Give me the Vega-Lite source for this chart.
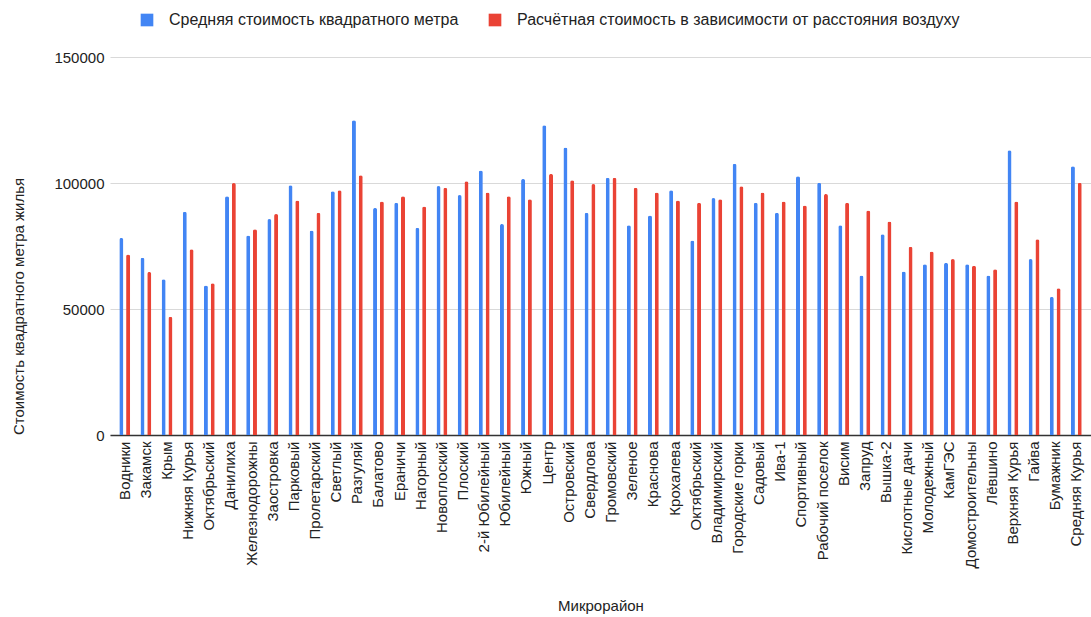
{
  "$schema": "https://vega.github.io/schema/vega-lite/v6.json",
  "autosize": {"type": "none"},
  "padding": {"left": 110, "top": 57, "right": 0, "bottom": 182},
  "width": 981,
  "height": 378,
  "background": "white",
  "config": {
    "font": "Liberation Sans",
    "view": {"stroke": null},
    "axis": {"labelFont": "Liberation Sans", "titleFont": "Liberation Sans", "labelColor": "#222222", "titleColor": "#222222", "labelFontSize": 15, "titleFontSize": 15, "titleFontWeight": "normal"},
    "legend": {"labelFont": "Liberation Sans", "labelFontSize": 16, "labelColor": "#222222"}
  },
  "data": {"values": [
    {"district": "Водники", "series": "Средняя стоимость квадратного метра", "value": 78200},
    {"district": "Водники", "series": "Расчётная стоимость в зависимости от расстояния воздуху", "value": 71600},
    {"district": "Закамск", "series": "Средняя стоимость квадратного метра", "value": 70300},
    {"district": "Закамск", "series": "Расчётная стоимость в зависимости от расстояния воздуху", "value": 64700},
    {"district": "Крым", "series": "Средняя стоимость квадратного метра", "value": 61800},
    {"district": "Крым", "series": "Расчётная стоимость в зависимости от расстояния воздуху", "value": 46900},
    {"district": "Нижняя Курья", "series": "Средняя стоимость квадратного метра", "value": 88600},
    {"district": "Нижняя Курья", "series": "Расчётная стоимость в зависимости от расстояния воздуху", "value": 73700},
    {"district": "Октябрьский", "series": "Средняя стоимость квадратного метра", "value": 59300},
    {"district": "Октябрьский", "series": "Расчётная стоимость в зависимости от расстояния воздуху", "value": 60200},
    {"district": "Данилиха", "series": "Средняя стоимость квадратного метра", "value": 94700},
    {"district": "Данилиха", "series": "Расчётная стоимость в зависимости от расстояния воздуху", "value": 100000},
    {"district": "Железнодорожны", "series": "Средняя стоимость квадратного метра", "value": 79200},
    {"district": "Железнодорожны", "series": "Расчётная стоимость в зависимости от расстояния воздуху", "value": 81600},
    {"district": "Заостровка", "series": "Средняя стоимость квадратного метра", "value": 85700},
    {"district": "Заостровка", "series": "Расчётная стоимость в зависимости от расстояния воздуху", "value": 87700},
    {"district": "Парковый", "series": "Средняя стоимость квадратного метра", "value": 99100},
    {"district": "Парковый", "series": "Расчётная стоимость в зависимости от расстояния воздуху", "value": 93100},
    {"district": "Пролетарский", "series": "Средняя стоимость квадратного метра", "value": 81200},
    {"district": "Пролетарский", "series": "Расчётная стоимость в зависимости от расстояния воздуху", "value": 88200},
    {"district": "Светлый", "series": "Средняя стоимость квадратного метра", "value": 96700},
    {"district": "Светлый", "series": "Расчётная стоимость в зависимости от расстояния воздуху", "value": 97100},
    {"district": "Разгуляй", "series": "Средняя стоимость квадратного метра", "value": 124900},
    {"district": "Разгуляй", "series": "Расчётная стоимость в зависимости от расстояния воздуху", "value": 103100},
    {"district": "Балатово", "series": "Средняя стоимость квадратного метра", "value": 90100},
    {"district": "Балатово", "series": "Расчётная стоимость в зависимости от расстояния воздуху", "value": 92700},
    {"district": "Ераничи", "series": "Средняя стоимость квадратного метра", "value": 92200},
    {"district": "Ераничи", "series": "Расчётная стоимость в зависимости от расстояния воздуху", "value": 94700},
    {"district": "Нагорный", "series": "Средняя стоимость квадратного метра", "value": 82200},
    {"district": "Нагорный", "series": "Расчётная стоимость в зависимости от расстояния воздуху", "value": 90700},
    {"district": "Новоплоский", "series": "Средняя стоимость квадратного метра", "value": 98800},
    {"district": "Новоплоский", "series": "Расчётная стоимость в зависимости от расстояния воздуху", "value": 98100},
    {"district": "Плоский", "series": "Средняя стоимость квадратного метра", "value": 95200},
    {"district": "Плоский", "series": "Расчётная стоимость в зависимости от расстояния воздуху", "value": 100700},
    {"district": "2-й Юбилейный", "series": "Средняя стоимость квадратного метра", "value": 105000},
    {"district": "2-й Юбилейный", "series": "Расчётная стоимость в зависимости от расстояния воздуху", "value": 96200},
    {"district": "Юбилейный", "series": "Средняя стоимость квадратного метра", "value": 83700},
    {"district": "Юбилейный", "series": "Расчётная стоимость в зависимости от расстояния воздуху", "value": 94700},
    {"district": "Южный", "series": "Средняя стоимость квадратного метра", "value": 101600},
    {"district": "Южный", "series": "Расчётная стоимость в зависимости от расстояния воздуху", "value": 93600},
    {"district": "Центр", "series": "Средняя стоимость квадратного метра", "value": 122900},
    {"district": "Центр", "series": "Расчётная стоимость в зависимости от расстояния воздуху", "value": 103600},
    {"district": "Островский", "series": "Средняя стоимость квадратного метра", "value": 114100},
    {"district": "Островский", "series": "Расчётная стоимость в зависимости от расстояния воздуху", "value": 101100},
    {"district": "Свердлова", "series": "Средняя стоимость квадратного метра", "value": 88200},
    {"district": "Свердлова", "series": "Расчётная стоимость в зависимости от расстояния воздуху", "value": 99600},
    {"district": "Громовский", "series": "Средняя стоимость квадратного метра", "value": 102100},
    {"district": "Громовский", "series": "Расчётная стоимость в зависимости от расстояния воздуху", "value": 102100},
    {"district": "Зеленое", "series": "Средняя стоимость квадратного метра", "value": 83200},
    {"district": "Зеленое", "series": "Расчётная стоимость в зависимости от расстояния воздуху", "value": 98100},
    {"district": "Краснова", "series": "Средняя стоимость квадратного метра", "value": 87100},
    {"district": "Краснова", "series": "Расчётная стоимость в зависимости от расстояния воздуху", "value": 96200},
    {"district": "Крохалева", "series": "Средняя стоимость квадратного метра", "value": 97100},
    {"district": "Крохалева", "series": "Расчётная стоимость в зависимости от расстояния воздуху", "value": 93100},
    {"district": "Октябрьский ", "series": "Средняя стоимость квадратного метра", "value": 77200},
    {"district": "Октябрьский ", "series": "Расчётная стоимость в зависимости от расстояния воздуху", "value": 92200},
    {"district": "Владимирский", "series": "Средняя стоимость квадратного метра", "value": 94000},
    {"district": "Владимирский", "series": "Расчётная стоимость в зависимости от расстояния воздуху", "value": 93600},
    {"district": "Городские горки", "series": "Средняя стоимость квадратного метра", "value": 107600},
    {"district": "Городские горки", "series": "Расчётная стоимость в зависимости от расстояния воздуху", "value": 98700},
    {"district": "Садовый", "series": "Средняя стоимость квадратного метра", "value": 92200},
    {"district": "Садовый", "series": "Расчётная стоимость в зависимости от расстояния воздуху", "value": 96200},
    {"district": "Ива-1", "series": "Средняя стоимость квадратного метра", "value": 88200},
    {"district": "Ива-1", "series": "Расчётная стоимость в зависимости от расстояния воздуху", "value": 92700},
    {"district": "Спортивный", "series": "Средняя стоимость квадратного метра", "value": 102700},
    {"district": "Спортивный", "series": "Расчётная стоимость в зависимости от расстояния воздуху", "value": 91100},
    {"district": "Рабочий поселок", "series": "Средняя стоимость квадратного метра", "value": 100100},
    {"district": "Рабочий поселок", "series": "Расчётная стоимость в зависимости от расстояния воздуху", "value": 95600},
    {"district": "Висим", "series": "Средняя стоимость квадратного метра", "value": 83200},
    {"district": "Висим", "series": "Расчётная стоимость в зависимости от расстояния воздуху", "value": 92200},
    {"district": "Запруд", "series": "Средняя стоимость квадратного метра", "value": 63300},
    {"district": "Запруд", "series": "Расчётная стоимость в зависимости от расстояния воздуху", "value": 89100},
    {"district": "Вышка-2", "series": "Средняя стоимость квадратного метра", "value": 79700},
    {"district": "Вышка-2", "series": "Расчётная стоимость в зависимости от расстояния воздуху", "value": 84700},
    {"district": "Кислотные дачи", "series": "Средняя стоимость квадратного метра", "value": 64900},
    {"district": "Кислотные дачи", "series": "Расчётная стоимость в зависимости от расстояния воздуху", "value": 74700},
    {"district": "Молодежный", "series": "Средняя стоимость квадратного метра", "value": 67800},
    {"district": "Молодежный", "series": "Расчётная стоимость в зависимости от расстояния воздуху", "value": 72800},
    {"district": "КамГЭС", "series": "Средняя стоимость квадратного метра", "value": 68300},
    {"district": "КамГЭС", "series": "Расчётная стоимость в зависимости от расстояния воздуху", "value": 69800},
    {"district": "Домостроительны", "series": "Средняя стоимость квадратного метра", "value": 67800},
    {"district": "Домостроительны", "series": "Расчётная стоимость в зависимости от расстояния воздуху", "value": 67200},
    {"district": "Лёвшино", "series": "Средняя стоимость квадратного метра", "value": 63300},
    {"district": "Лёвшино", "series": "Расчётная стоимость в зависимости от расстояния воздуху", "value": 65800},
    {"district": "Верхняя Курья", "series": "Средняя стоимость квадратного метра", "value": 113000},
    {"district": "Верхняя Курья", "series": "Расчётная стоимость в зависимости от расстояния воздуху", "value": 92700},
    {"district": "Гайва", "series": "Средняя стоимость квадратного метра", "value": 69800},
    {"district": "Гайва", "series": "Расчётная стоимость в зависимости от расстояния воздуху", "value": 77700},
    {"district": "Бумажник", "series": "Средняя стоимость квадратного метра", "value": 54800},
    {"district": "Бумажник", "series": "Расчётная стоимость в зависимости от расстояния воздуху", "value": 58200},
    {"district": "Средняя Курья", "series": "Средняя стоимость квадратного метра", "value": 106600},
    {"district": "Средняя Курья", "series": "Расчётная стоимость в зависимости от расстояния воздуху", "value": 100100}
  ]},
  "mark": {"type": "bar", "cornerRadiusTopLeft": 2, "cornerRadiusTopRight": 2},
  "encoding": {
    "x": {
      "field": "district", "type": "nominal", "sort": null,
      "scale": {"paddingInner": 0.49, "paddingOuter": 0.44},
      "axis": {
        "title": "Микрорайон", "titleY": 170, "titleBaseline": "middle",
        "labelAngle": -90, "labelPadding": 6, "ticks": false, "labelLimit": 0,
        "domainColor": "#333333", "domainWidth": 1.5, "grid": false
      }
    },
    "xOffset": {
      "field": "series", "type": "nominal", "sort": null,
      "scale": {"paddingInner": 0.41}
    },
    "y": {
      "field": "value", "type": "quantitative",
      "scale": {"domain": [0, 150000], "nice": false},
      "axis": {
        "title": "Стоимость квадратного метра жилья",
        "values": [0, 50000, 100000, 150000], "format": "d",
        "domain": false, "ticks": false, "labelPadding": 6,
        "gridColor": "#d9d9d9", "gridWidth": 1,
        "titleX": -92, "titleY": 249, "titleBaseline": "middle", "titleAngle": -90
      }
    },
    "color": {
      "field": "series", "type": "nominal", "sort": null,
      "scale": {
        "domain": ["Средняя стоимость квадратного метра", "Расчётная стоимость в зависимости от расстояния воздуху"],
        "range": ["#4285F4", "#EA4335"]
      },
      "legend": {
        "title": null, "orient": "none", "direction": "horizontal",
        "legendX": 29, "legendY": -45, "labelLimit": 0,
        "symbolType": "square", "symbolSize": 160, "symbolStrokeWidth": 0,
        "columnPadding": 28, "labelOffset": 14
      }
    }
  }
}
